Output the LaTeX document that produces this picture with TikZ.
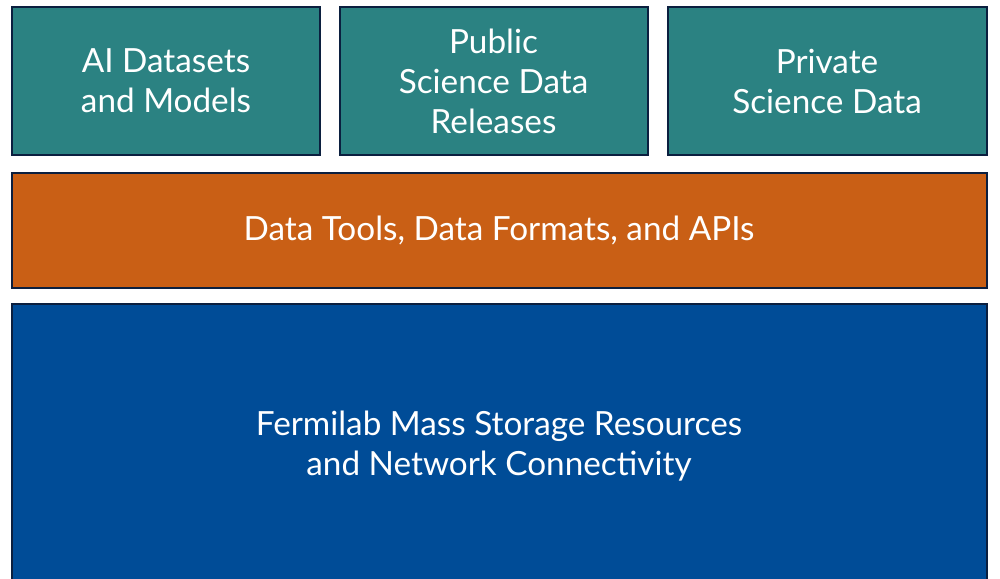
\documentclass[tikz,border=0pt]{standalone}
\usepackage{fontspec}
\setmainfont{Lato}
\definecolor{tealc}{HTML}{2B8282}
\definecolor{orangec}{HTML}{C95F15}
\definecolor{bluec}{HTML}{004C97}
\definecolor{edgec}{HTML}{0B1F3F}
\begin{document}
\begin{tikzpicture}[x=1pt,y=-1pt,
  layer/.style={draw=edgec,line width=2pt,rectangle,inner sep=0pt,align=center,
    text=white,font=\fontsize{33.3}{40}\selectfont},
]
\useasboundingbox (0,0) rectangle (1000,578);
\clip (0,0) rectangle (1000,578);
\node[layer,fill=tealc,minimum width=308,minimum height=148] (ai) at (166,81) {AI Datasets\\and Models};
\node[layer,fill=tealc,minimum width=308,minimum height=148] (pub) at (493.5,81) {Public\\Science Data\\Releases};
\node[layer,fill=tealc,minimum width=319,minimum height=148] (priv) at (827,81) {Private\\Science Data};
\node[layer,fill=orangec,minimum width=975,minimum height=115] (tools) at (499,230) {Data Tools, Data Formats, and APIs};
\node[layer,fill=bluec,minimum width=975,minimum height=284] (mass) at (499,446) {Fermilab Mass Storage Resources\\and Network Connectivity};
\end{tikzpicture}
\end{document}
